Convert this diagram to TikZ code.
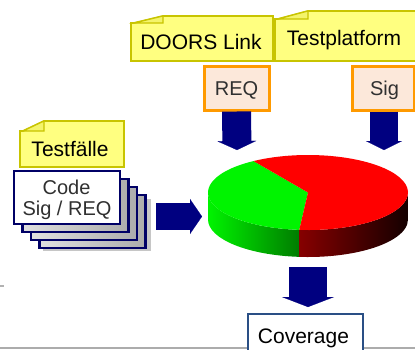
\documentclass[tikz,border=0pt]{standalone}
\usepackage{fontspec}
\setmainfont{Liberation Sans}
\usetikzlibrary{arrows.meta}

\definecolor{notefill}{HTML}{FFFF80}
\definecolor{noteline}{HTML}{C8C400}
\definecolor{flapfill}{HTML}{F4F46A}
\definecolor{navyblue}{HTML}{000080}
\definecolor{cardline}{HTML}{000066}
\definecolor{tagline}{HTML}{FF9A00}
\definecolor{tagfill}{HTML}{FCE8DA}
\definecolor{covline}{HTML}{2A4F85}
\definecolor{textgray}{HTML}{303030}
\definecolor{piegreen}{HTML}{00F400}
\definecolor{piegreendark}{HTML}{007C00}
\definecolor{piered}{HTML}{FF0000}
\definecolor{pieredside}{HTML}{860000}
\definecolor{pieredend}{HTML}{140000}

\tikzset{
  notebody/.style={fill=notefill, draw=noteline, line width=1.8pt, line join=miter},
  noteflap/.style={fill=flapfill, draw=noteline, line width=1.2pt, line join=miter},
  lbl/.style={font=\fontsize{21}{24}\selectfont, anchor=base, inner sep=0pt},
  tagbox/.style={fill=tagfill, draw=tagline, line width=3pt, inner sep=0pt},
  card/.style={draw=cardline, line width=2.5pt, inner sep=0pt,
               minimum width=106pt, minimum height=53pt},
  backcard/.style={card, left color=gray!25, right color=gray!65},
  blockarrow/.style={draw=navyblue, line width=#1, line cap=butt},
}

\begin{document}
\begin{tikzpicture}[x=1pt, y=-1pt]
\useasboundingbox (0,0) rectangle (415,349);

% base line along the bottom and a small mark on the left
\draw[gray!65, line width=1.5pt] (0,348) -- (415,348);
\draw[gray!60, line width=1.5pt] (0,286) -- (4,286);

% --- sticky notes ---
\draw[notebody] (131,61) -- (131,23) -- (134,23) -- (163,16) -- (273,16) -- (273,61) -- cycle;
\draw[noteflap] (134,23) -- (163,16) -- (163,23) -- cycle;
\node[lbl] (doors) at (201,49) {DOORS Link};

\draw[notebody] (275,61) -- (275,19) -- (278,19) -- (308,11) -- (420,11) -- (420,61) -- cycle;
\draw[noteflap] (278,19) -- (308,11) -- (308,19) -- cycle;
\node[lbl] (tplat) at (344,45) {Testplatform};

\draw[notebody] (20,167) -- (20,131) -- (23,131) -- (44,121) -- (124,121) -- (124,167) -- cycle;
\draw[noteflap] (23,131) -- (44,121) -- (44,131) -- cycle;
\node[lbl] (tfall) at (70,156) {Testfälle};

% --- REQ / Sig tags ---
\node[tagbox, minimum width=65pt, minimum height=44pt] (req) at (236.5,88) {};
\node[lbl, font=\fontsize{20}{24}\selectfont, text=textgray] (reqt) at (236.5,95) {REQ};
\node[tagbox, minimum width=62pt, minimum height=44pt] (sig) at (383,88) {};
\node[lbl, font=\fontsize{20}{24}\selectfont, text=textgray] (sigt) at (384.5,95) {Sig};

% --- stack of test cards ---
\fill[gray!45] (42.5,198.5) rectangle (150.5,250.5);
\node[backcard] (card4) at (92.5,221.5) {};
\node[backcard] (card3) at (84,213.5) {};
\node[backcard] (card2) at (75.5,205.5) {};
\node[card, fill=white] (card1) at (67,197.5) {};
\node[lbl, font=\fontsize{20}{24}\selectfont, text=textgray] (codet) at (66.5,194) {Code};
\node[lbl, font=\fontsize{20}{24}\selectfont, text=textgray] (sigreqt) at (67,215) {Sig / REQ};

% --- 3D pie chart ---
\node[inner sep=0pt, minimum width=200pt, minimum height=102pt] (pie) at (308,206) {};
\begin{scope}[shift={(308,192.5)}, yscale=-1]
  \shade[left color=piegreen, right color=piegreendark]
    (180:100 and 37.5) arc[start angle=180, end angle=265, x radius=100, y radius=37.5]
    -- ++(0,-27) arc[start angle=265, end angle=180, x radius=100, y radius=37.5] -- cycle;
  \shade[left color=pieredside, right color=pieredend]
    (265:100 and 37.5) arc[start angle=265, end angle=360, x radius=100, y radius=37.5]
    -- ++(0,-27) arc[start angle=360, end angle=265, x radius=100, y radius=37.5] -- cycle;
  \fill[piegreen] (0,0) -- (123:100 and 37.5)
    arc[start angle=123, end angle=265, x radius=100, y radius=37.5] -- cycle;
  \fill[piered] (0,0) -- (265:100 and 37.5)
    arc[start angle=265, end angle=483, x radius=100, y radius=37.5] -- cycle;
\end{scope}

% --- coverage result ---
\node[draw=covline, fill=white, line width=1.6pt, inner sep=0pt,
      minimum width=115pt, minimum height=40pt] (coverage) at (305.5,334) {};
\node[lbl, text=black] (covt) at (303.5,343) {Coverage};

% --- block arrows ---
\coordinate (reqin) at (237,150);
\coordinate (sigin) at (384,150);
\coordinate (cardout) at (156,216.5);
\coordinate (piein) at (202,216.5);
\coordinate (pieout) at (308,267);
\coordinate (covin) at (308,307);
\draw[blockarrow=29pt, -{Triangle[width=39pt, length=9pt, line width=0.1pt]}] (req.south) -- (reqin);
\draw[blockarrow=28pt, -{Triangle[width=36pt, length=9pt, line width=0.1pt]}] (sig.south -| sigin) -- (sigin);
\draw[blockarrow=27pt, -{Triangle[width=35pt, length=12pt, line width=0.1pt]}] (cardout) -- (piein);
\draw[blockarrow=38pt, -{Triangle[width=52pt, length=10pt, line width=0.1pt]}] (pieout) -- (covin);
\end{tikzpicture}
\end{document}
